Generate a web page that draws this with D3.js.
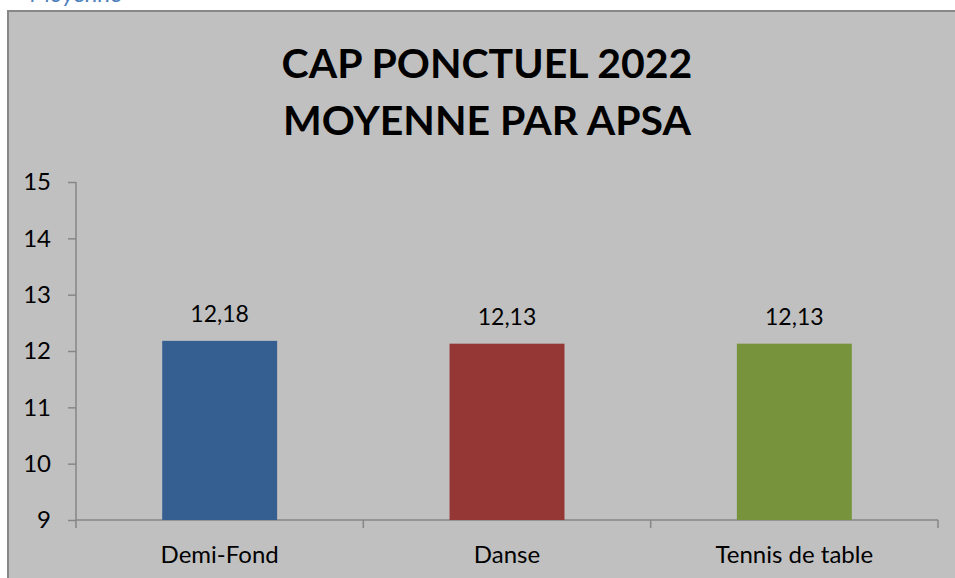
<!DOCTYPE html>
<html>
<head>
<meta charset="utf-8">
<script src="https://cdn.jsdelivr.net/npm/d3@7"></script>
<style>
  html, body { margin: 0; padding: 0; background: #fff; overflow: hidden; }
  svg { display: block; font-family: Lato, "Open Sans", sans-serif; }
</style>
</head>
<body>
<div id="chart"></div>
<script>
const categories = ["Demi-Fond", "Danse", "Tennis de table"]
const values = [12.18, 12.13, 12.13]
const labels = ["12,18", "12,13", "12,13"]
const colors = ["#355f91", "#953735", "#77933c"]
const yTicks = [9, 10, 11, 12, 13, 14, 15]
const titleLines = ["CAP PONCTUEL 2022", "MOYENNE PAR APSA"]

const width = 955;
const height = 578;
const margin = { top: 182, right: 17, bottom: 58, left: 76 };

const svg = d3.select("div#chart").append("svg")
    .attr("width", width)
    .attr("height", height)

// bit of the heading above the chart, cut off by the page edge
svg.append("text")
    .attr("x", 30)
    .attr("y", 2)
    .attr("font-size", 24)
    .attr("font-style", "italic")
    .attr("fill", "#4f81bd")
    .text("Moyenne")

// chart frame
svg.append("rect")
    .attr("x", 8)
    .attr("y", 11)
    .attr("width", 970)
    .attr("height", 600)
    .attr("fill", "#c0c0c0")
    .attr("stroke", "#878787")
    .attr("stroke-width", 2)

const title = svg.append("text")
    .attr("text-anchor", "middle")
    .attr("font-weight", "bold")
    .attr("font-size", 41)
    .attr("fill", "#000")
titleLines.forEach((t, i) => {
    title.append("tspan")
        .attr("x", 487)
        .attr("y", 78 + i * 57)
        .text(t)
})

const innerW = width - margin.left - margin.right
const innerH = height - margin.top - margin.bottom

const g = svg.append("g")
    .attr("transform", `translate(${margin.left}, ${margin.top})`)

const x = d3.scaleBand().domain(categories).range([0, innerW]).paddingInner(0.6).paddingOuter(0.3)
const xEdges = d3.scaleLinear().domain([0, categories.length]).range([0, innerW])
const y = d3.scaleLinear().domain([9, 15]).range([innerH, 0])

// y axis
const yAxis = d3.axisLeft(y).tickValues(yTicks).tickSize(8).tickPadding(17).tickFormat(d3.format("d"))
const yAxisGroup = g.append("g").call(yAxis)
yAxisGroup.select(".domain").attr("stroke", "#868686").attr("stroke-width", 1.5).attr("d", `M0,0V${innerH}`)
yAxisGroup.selectAll(".tick line").attr("stroke", "#868686").attr("stroke-width", 1.5)
yAxisGroup.selectAll(".tick text").attr("font-size", 24).attr("fill", "#000").attr("font-family", "Lato")

// x axis with ticks between categories
const xAxisGroup = g.append("g").attr("transform", `translate(0, ${innerH})`)
xAxisGroup.append("line")
    .attr("x1", 0).attr("x2", innerW)
    .attr("stroke", "#868686").attr("stroke-width", 1.5)
xAxisGroup.selectAll(".edge")
    .data(d3.range(categories.length + 1))
    .enter().append("line")
    .attr("class", "edge")
    .attr("x1", d => xEdges(d)).attr("x2", d => xEdges(d))
    .attr("y1", 0).attr("y2", 8)
    .attr("stroke", "#868686").attr("stroke-width", 1.5)
xAxisGroup.selectAll(".cat")
    .data(categories)
    .enter().append("text")
    .attr("class", "cat")
    .attr("x", d => x(d) + x.bandwidth() / 2)
    .attr("y", 43)
    .attr("text-anchor", "middle")
    .attr("font-size", 24)
    .attr("fill", "#000")
    .text(d => d)

g.selectAll(".bar")
    .data(values)
    .enter().append("rect")
    .attr("class", "bar")
    .attr("x", (d, i) => x(categories[i]))
    .attr("y", d => y(d))
    .attr("width", x.bandwidth())
    .attr("height", d => innerH - y(d))
    .attr("fill", (d, i) => colors[i])

g.selectAll(".val")
    .data(values)
    .enter().append("text")
    .attr("class", "val")
    .attr("x", (d, i) => x(categories[i]) + x.bandwidth() / 2)
    .attr("y", d => y(d) - 19)
    .attr("text-anchor", "middle")
    .attr("font-size", 23)
    .attr("fill", "#000")
    .text((d, i) => labels[i])
</script>
</body>
</html>
